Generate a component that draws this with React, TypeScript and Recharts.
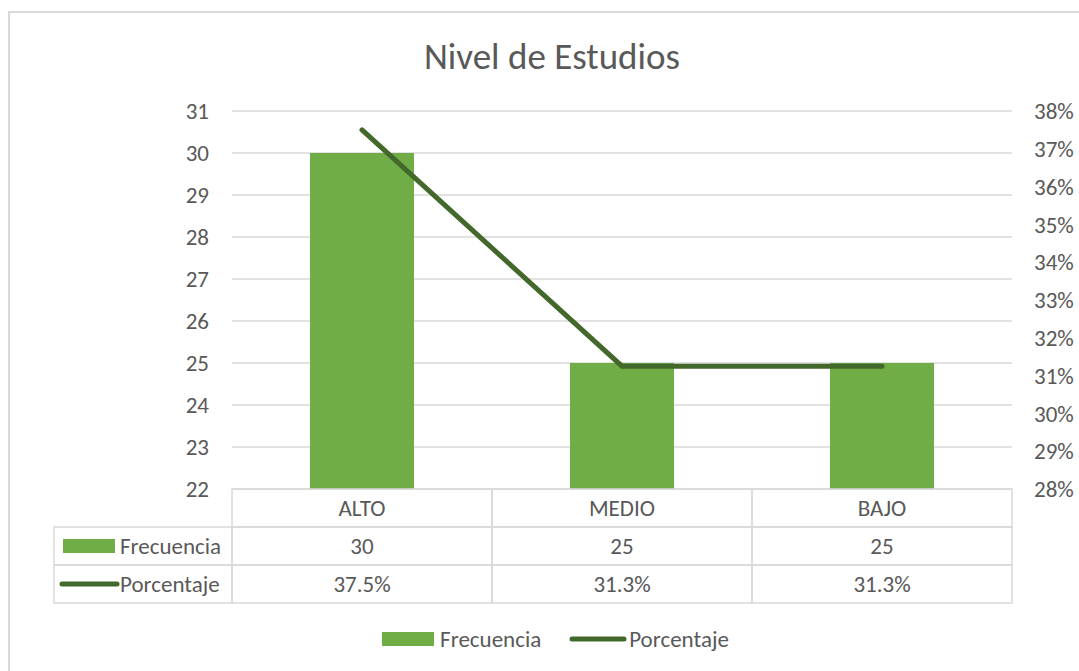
import React from 'react';
import { ComposedChart, Bar, Line, XAxis, YAxis, CartesianGrid, Legend } from 'recharts';

const categories = ['ALTO', 'MEDIO', 'BAJO'];
const frecuencia = [30, 25, 25];
const porcentaje = [0.375, 0.3125, 0.3125];
const porcentajeLabels = ['37.5%', '31.3%', '31.3%'];
const leftTicks = [22, 23, 24, 25, 26, 27, 28, 29, 30, 31];
const rightTicks = [0.28, 0.29, 0.3, 0.31, 0.32, 0.33, 0.34, 0.35, 0.36, 0.37, 0.38];
const seriesNames = ['Frecuencia', 'Porcentaje'];
const title = 'Nivel de Estudios';

const data = categories.map((c, i) => ({
  name: c,
  Frecuencia: frecuencia[i],
  Porcentaje: porcentaje[i],
}));

const FONT = 'Carlito, Calibri, Lato, sans-serif';
const TEXT = '#595959';
const GRID = '#D9D9D9';
const BAR = '#70AD47';
const LINE = '#43682B';
const FS = 23;
const ROW = 38;
const LABEL_COL = 178;

const TableTick = (props: any) => {
  const { x, y, payload, index } = props;
  const axisW = typeof props.width === 'number' && props.width > 0 ? props.width : 780;
  const band = axisW / categories.length;
  const left = x - band / 2;
  const i = payload && typeof payload.index === 'number' ? payload.index : index;
  return (
    <g>
      <rect x={left} y={y} width={band} height={ROW} fill="none" stroke={GRID} strokeWidth={1.5} />
      <rect x={left} y={y + ROW} width={band} height={ROW} fill="none" stroke={GRID} strokeWidth={1.5} />
      <rect x={left} y={y + 2 * ROW} width={band} height={ROW} fill="none" stroke={GRID} strokeWidth={1.5} />
      <text x={x} y={y + ROW / 2} textAnchor="middle" dominantBaseline="central" fill={TEXT} fontSize={FS} fontFamily={FONT}>
        {payload.value}
      </text>
      <text x={x} y={y + ROW * 1.5} textAnchor="middle" dominantBaseline="central" fill={TEXT} fontSize={FS} fontFamily={FONT}>
        {frecuencia[i]}
      </text>
      <text x={x} y={y + ROW * 2.5} textAnchor="middle" dominantBaseline="central" fill={TEXT} fontSize={FS} fontFamily={FONT}>
        {porcentajeLabels[i]}
      </text>
      {i === 0 && (
        <g>
          <rect x={left - LABEL_COL} y={y + ROW} width={LABEL_COL} height={ROW} fill="none" stroke={GRID} strokeWidth={1.5} />
          <rect x={left - LABEL_COL} y={y + 2 * ROW} width={LABEL_COL} height={ROW} fill="none" stroke={GRID} strokeWidth={1.5} />
          <rect x={left - LABEL_COL + 9} y={y + ROW * 1.5 - 7} width={52} height={14} fill={BAR} />
          <text x={left - LABEL_COL + 66} y={y + ROW * 1.5} dominantBaseline="central" fill={TEXT} fontSize={FS} fontFamily={FONT}>
            {seriesNames[0]}
          </text>
          <line x1={left - LABEL_COL + 8} x2={left - LABEL_COL + 63} y1={y + ROW * 2.5} y2={y + ROW * 2.5} stroke={LINE} strokeWidth={5} strokeLinecap="round" />
          <text x={left - LABEL_COL + 66} y={y + ROW * 2.5} dominantBaseline="central" fill={TEXT} fontSize={FS} fontFamily={FONT}>
            {seriesNames[1]}
          </text>
        </g>
      )}
    </g>
  );
};

const renderLegend = (props: any) => {
  const payload = props.payload || [];
  return (
    <div style={{ display: 'flex', justifyContent: 'center', alignItems: 'center', fontFamily: FONT, fontSize: FS, color: TEXT }}>
      {payload.map((entry: any, k: number) => (
        <div key={k} style={{ display: 'flex', alignItems: 'center', marginLeft: k === 0 ? 0 : 28 }}>
          {entry.type === 'line' ? (
            <svg width={58} height={8} style={{ display: 'block' }}>
              <line x1={3} x2={55} y1={4} y2={4} stroke={LINE} strokeWidth={5} strokeLinecap="round" />
            </svg>
          ) : (
            <div style={{ width: 52, height: 14, background: BAR }} />
          )}
          <span style={{ marginLeft: entry.type === 'line' ? 2 : 6 }}>{entry.value}</span>
        </div>
      ))}
    </div>
  );
};

export default function App() {
  return (
    <div style={{ position: 'absolute', left: 0, top: 0, width: 1079, height: 671, overflow: 'hidden', background: '#fff', fontFamily: FONT }}>
      <div style={{ position: 'absolute', left: 8, top: 11, width: 1200, height: 800, borderLeft: `2px solid ${GRID}`, borderTop: `2px solid ${GRID}` }} />
      <div style={{ position: 'absolute', left: 0, top: 35, width: 1104, textAlign: 'center', fontSize: 37, lineHeight: '44px', color: TEXT }}>
        {title}
      </div>
      <div style={{ position: 'absolute', left: 0, top: 0 }}>
        <ComposedChart width={1079} height={671} data={data} margin={{ top: 111, right: 7, bottom: 152, left: 172 }} barCategoryGap="30%">
          <CartesianGrid yAxisId="left" horizontal vertical={false} stroke={GRID} strokeWidth={1.3} />
          <XAxis dataKey="name" xAxisId={0} height={30} tickLine={false} axisLine={false} tickSize={0} tickMargin={0} interval={0} tick={<TableTick />} />
          <YAxis
            yAxisId="left"
            orientation="left"
            width={60}
            domain={[22, 31]}
            ticks={leftTicks}
            interval={0}
            axisLine={false}
            tickLine={false}
            tickSize={0}
            tickMargin={23}
            tick={{ fill: TEXT, fontSize: FS, fontFamily: FONT }}
          />
          <YAxis
            yAxisId="right"
            orientation="right"
            width={60}
            domain={[0.28, 0.38]}
            ticks={rightTicks}
            interval={0}
            axisLine={false}
            tickLine={false}
            tickSize={0}
            tickMargin={22}
            tickFormatter={(v: number) => `${Math.round(v * 100)}%`}
            tick={{ fill: TEXT, fontSize: FS, fontFamily: FONT }}
          />
          <Bar yAxisId="left" dataKey="Frecuencia" name={seriesNames[0]} fill={BAR} legendType="rect" isAnimationActive={false} />
          <Line
            yAxisId="right"
            type="linear"
            dataKey="Porcentaje"
            name={seriesNames[1]}
            stroke={LINE}
            strokeWidth={5}
            strokeLinecap="round"
            dot={false}
            activeDot={false}
            legendType="line"
            isAnimationActive={false}
          />
          <Legend
            layout="horizontal"
            verticalAlign="middle"
            align="center"
            content={renderLegend}
            wrapperStyle={{ top: 625, left: 0, width: 1111, height: 30 }}
          />
        </ComposedChart>
      </div>
    </div>
  );
}
